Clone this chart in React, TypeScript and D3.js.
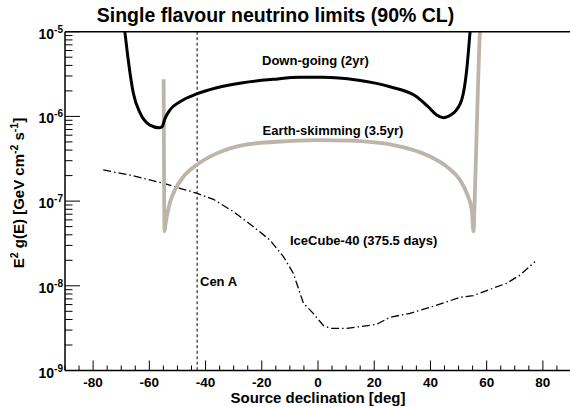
import { useEffect, useRef } from 'react';
import * as d3 from 'd3';

// declination [deg], E^2 g(E) [GeV cm^-2 s^-1]
const downGoingDec = [-69.2, -68.7, -67.5, -65.7, -63.3, -59.8, -56.5, -55.5, -54.4, -52.7, -49.1, -43.2, -36.0, -26.7, -16.0, -6.4, 1.9, 13.8, 25.6, 35.1, 39.2, 42.2, 44.6, 48.1, 51.1, 52.9, 54.1, 54.5];
const downGoingVal = [1.4e-5, 1.0e-5, 4.63e-6, 1.89e-6, 1.1e-6, 7.9e-7, 7.36e-7, 7.55e-7, 9.5e-7, 1.19e-6, 1.49e-6, 1.84e-6, 2.18e-6, 2.5e-6, 2.74e-6, 2.9e-6, 2.9e-6, 2.69e-6, 2.24e-6, 1.71e-6, 1.3e-6, 1.04e-6, 9.66e-7, 1.09e-6, 1.56e-6, 3.53e-6, 1.0e-5, 1.4e-5];

const earthSkimDec = [-54.9, -54.6, -54.2, -53.6, -52.7, -50.9, -47.9, -43.2, -36.0, -26.6, -14.7, -0.5, 11.4, 18.5, 26.8, 38.7, 45.8, 50.5, 52.9, 54.7, 55.3, 55.8, 56.6, 57.6, 57.9];
const earthSkimVal = [2.74e-6, 4.4e-8, 5.5e-8, 7.0e-8, 9.5e-8, 1.35e-7, 1.94e-7, 2.67e-7, 3.66e-7, 4.59e-7, 5.02e-7, 5.26e-7, 5.17e-7, 4.99e-7, 4.59e-7, 3.5e-7, 2.55e-7, 1.77e-7, 1.24e-7, 7.85e-8, 4.4e-8, 1.2e-7, 1.0e-6, 1.0e-5, 1.4e-5];

const iceCubeDec = [-76.4, -66.9, -55.0, -47.9, -43.2, -37.2, -30.1, -23.0, -17.1, -12.3, -8.8, -5.2, -1.7, 1.9, 4.3, 10.2, 14.9, 20.9, 25.6, 32.7, 39.8, 47.0, 50.5, 55.2, 61.2, 67.1, 71.9, 77.2];
const iceCubeVal = [2.33e-7, 2.03e-7, 1.62e-7, 1.38e-7, 1.24e-7, 1.05e-7, 7.5e-8, 4.99e-8, 3.47e-8, 2.21e-8, 1.41e-8, 6.25e-9, 4.73e-9, 3.4e-9, 3.15e-9, 3.15e-9, 3.29e-9, 3.51e-9, 4.25e-9, 4.73e-9, 5.57e-9, 6.67e-9, 7.31e-9, 7.64e-9, 9.09e-9, 1.07e-8, 1.34e-8, 1.93e-8];

const cenADec = -43.0;
const xTicks = [-80, -60, -40, -20, 0, 20, 40, 60, 80];
const yDecades = [-9, -8, -7, -6, -5];

const FONT = '"Liberation Sans", Arial, Helvetica, sans-serif';
const GREY = '#bdb4aa';

export default function App() {
  const ref = useRef<SVGSVGElement>(null);
  const W = 570;
  const H = 407;

  useEffect(() => {
    if (!ref.current) return;
    const svg = d3.select(ref.current);
    svg.selectAll('*').remove();

    const left = 65, right = 571, top = 31.7, bottom = 370.5;
    const x = d3.scaleLinear().domain([-90, 90]).range([left, right]);
    const y = d3.scaleLog().domain([1e-9, 1e-5]).range([bottom, top]);

    svg.append('defs').append('clipPath').attr('id', 'plotclip')
      .append('rect').attr('x', left).attr('y', top).attr('width', right - left).attr('height', bottom - top);

    // title
    svg.append('text')
      .attr('x', 275.5).attr('y', 22)
      .attr('text-anchor', 'middle')
      .attr('font-family', FONT).attr('font-weight', 'bold').attr('font-size', 19.5)
      .text('Single flavour neutrino limits (90% CL)');

    const plot = svg.append('g').attr('clip-path', 'url(#plotclip)');

    // Cen A
    plot.append('line')
      .attr('x1', x(cenADec)).attr('x2', x(cenADec))
      .attr('y1', top).attr('y2', bottom)
      .attr('stroke', '#000').attr('stroke-width', 1).attr('stroke-dasharray', '3,2.5');

    const line = d3.line<[number, number]>()
      .x((d) => x(d[0]))
      .y((d) => y(d[1]));

    // IceCube-40
    plot.append('path')
      .datum(d3.zip(iceCubeDec, iceCubeVal) as [number, number][])
      .attr('d', line.curve(d3.curveLinear))
      .attr('fill', 'none').attr('stroke', '#000').attr('stroke-width', 1.3)
      .attr('stroke-dasharray', '8,3,1.5,3');

    // Earth-skimming
    plot.append('path')
      .datum(d3.zip(earthSkimDec, earthSkimVal) as [number, number][])
      .attr('d', line.curve(d3.curveMonotoneX))
      .attr('fill', 'none').attr('stroke', GREY).attr('stroke-width', 3.8)
      .attr('stroke-linejoin', 'round');

    // Down-going
    plot.append('path')
      .datum(d3.zip(downGoingDec, downGoingVal) as [number, number][])
      .attr('d', line.curve(d3.curveMonotoneX))
      .attr('fill', 'none').attr('stroke', '#000').attr('stroke-width', 3)
      .attr('stroke-linejoin', 'round');

    // frame
    const ax = svg.append('g').attr('stroke', '#000').attr('stroke-width', 1.5);
    ax.append('line').attr('x1', left).attr('x2', right).attr('y1', top).attr('y2', top);
    ax.append('line').attr('x1', left).attr('x2', right).attr('y1', bottom).attr('y2', bottom);
    ax.append('line').attr('x1', left).attr('x2', left).attr('y1', top).attr('y2', bottom);

    // x ticks
    const tk = svg.append('g').attr('stroke', '#000').attr('stroke-width', 1);
    d3.range(-90, 91, 5).forEach((v) => {
      const major = v % 20 === 0;
      tk.append('line')
        .attr('x1', x(v)).attr('x2', x(v))
        .attr('y1', bottom).attr('y2', bottom - (major ? 10 : 5));
    });
    svg.append('g').selectAll('text').data(xTicks).join('text')
      .attr('x', (d) => x(d)).attr('y', 386.5)
      .attr('text-anchor', 'middle')
      .attr('font-family', FONT).attr('font-weight', 'bold').attr('font-size', 13.5)
      .text((d) => String(d));

    // y ticks
    yDecades.forEach((e) => {
      const v = Math.pow(10, e);
      tk.append('line').attr('x1', left).attr('x2', left + 15).attr('y1', y(v)).attr('y2', y(v));
      if (e < -5) {
        for (let m = 2; m <= 9; m++) {
          tk.append('line').attr('x1', left).attr('x2', left + 7.5)
            .attr('y1', y(m * v)).attr('y2', y(m * v));
        }
      }
      const t = svg.append('text')
        .attr('x', 63).attr('y', y(v) + 7)
        .attr('text-anchor', 'end')
        .attr('font-family', FONT).attr('font-weight', 'bold').attr('font-size', 14);
      t.append('tspan').text('10');
      t.append('tspan').attr('font-size', 10).attr('dy', -6).text(String(e));
    });

    // axis titles
    svg.append('text')
      .attr('x', 318).attr('y', 402.5)
      .attr('text-anchor', 'middle')
      .attr('font-family', FONT).attr('font-weight', 'bold').attr('font-size', 15)
      .text('Source declination [deg]');

    const yt = svg.append('text')
      .attr('transform', 'translate(23.5,193) rotate(-90)')
      .attr('text-anchor', 'middle')
      .attr('font-family', FONT).attr('font-weight', 'bold').attr('font-size', 15);
    yt.append('tspan').text('E');
    yt.append('tspan').attr('font-size', 10.5).attr('dy', -6).text('2');
    yt.append('tspan').attr('dy', 6).text(' g(E) [GeV cm');
    yt.append('tspan').attr('font-size', 10.5).attr('dy', -6).text('-2');
    yt.append('tspan').attr('dy', 6).text(' s');
    yt.append('tspan').attr('font-size', 10.5).attr('dy', -6).text('-1');
    yt.append('tspan').attr('dy', 6).text(']');

    // curve labels
    const labels: [string, number, number][] = [
      ['Down-going (2yr)', 262, 64.5],
      ['Earth-skimming (3.5yr)', 262.5, 135],
      ['IceCube-40 (375.5 days)', 290, 245],
      ['Cen A', 200, 286],
    ];
    svg.append('g').selectAll('text').data(labels).join('text')
      .attr('x', (d) => d[1]).attr('y', (d) => d[2])
      .attr('font-family', FONT).attr('font-weight', 'bold').attr('font-size', 13)
      .text((d) => d[0]);
  }, []);

  return (
    <svg
      ref={ref}
      width={W}
      height={H}
      style={{ position: 'absolute', left: 0, top: 0, background: '#fff' }}
    />
  );
}
